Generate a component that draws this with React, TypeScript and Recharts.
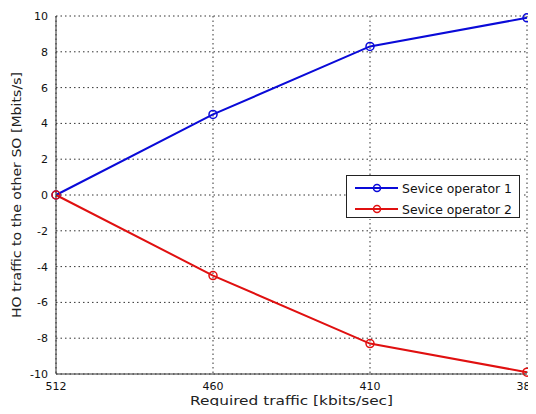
import React from 'react';
import { LineChart, Line, XAxis, YAxis, CartesianGrid } from 'recharts';

// x categories (required traffic, kbits/sec) and the two operators' HO traffic
const categories = ['512', '460', '410', '384'];
const operator1 = [0, 4.5, 8.3, 9.9];
const operator2 = [0, -4.5, -8.3, -9.9];
const yTicks = [-10, -8, -6, -4, -2, 0, 2, 4, 6, 8, 10];

const BLUE = '#0a0ad8';
const RED = '#e01010';
const FONT = '"DejaVu Sans", Verdana, sans-serif';

const data = categories.map((c, i) => ({ idx: i, op1: operator1[i], op2: operator2[i] }));

const tickStyle = { fill: '#111', fontSize: 11, fontFamily: FONT };

function LegendBox(): React.JSX.Element {
  const rows = [
    { name: 'Sevice operator 1', color: BLUE, y: 13 },
    { name: 'Sevice operator 2', color: RED, y: 34 },
  ];
  return (
    <svg
      width={175}
      height={44}
      style={{ position: 'absolute', left: 346, top: 175, background: '#fff' }}
    >
      <rect x={0.5} y={0.5} width={173} height={42} fill="#fff" stroke="#222" />
      {rows.map((r) => (
        <g key={r.name}>
          <line x1={9} y1={r.y} x2={52} y2={r.y} stroke={r.color} strokeWidth={2} />
          <circle cx={31} cy={r.y} r={3.5} fill="none" stroke={r.color} strokeWidth={1.5} />
          <text x={56} y={r.y + 4.5} fontSize={12} fontFamily={FONT} fill="#111" textLength={110} lengthAdjust="spacingAndGlyphs">
            {r.name}
          </text>
        </g>
      ))}
    </svg>
  );
}

// axis titles placed by hand, like MATLAB's xlabel / ylabel
const YTitle = () => (
  <text
    transform="translate(21, 195) rotate(-90)"
    textAnchor="middle"
    fontSize={13}
    fontFamily={FONT}
    fill="#222"
    textLength={246}
    lengthAdjust="spacingAndGlyphs"
  >
    HO traffic to the other SO [Mbits/s]
  </text>
);

const XTitle = () => (
  <text
    x={291.5}
    y={405}
    textAnchor="middle"
    fontSize={13}
    fontFamily={FONT}
    fill="#222"
    textLength={203}
    lengthAdjust="spacingAndGlyphs"
  >
    Required traffic [kbits/sec]
  </text>
);

export default function App(): React.JSX.Element {
  return (
    <div style={{ width: 536, height: 414, background: '#fff', margin: -8, position: 'relative' }}>
      <LineChart
        width={536}
        height={414}
        data={data}
        margin={{ top: 16, right: 9, left: 0, bottom: 0 }}
      >
        <CartesianGrid stroke="#333" strokeDasharray="1.5 3" />
        <XAxis
          dataKey="idx"
          type="number"
          domain={[0, 3]}
          ticks={[0, 1, 2, 3]}
          tickFormatter={(v: number) => categories[v]}
          tick={tickStyle}
          tickLine={false}
          axisLine={{ stroke: '#333' }}
          height={40}
          label={<XTitle />}
        />
        <XAxis xAxisId="top" orientation="top" dataKey="idx" type="number" domain={[0, 3]} tick={false} tickLine={false} axisLine={{ stroke: '#333' }} height={0} />
        <YAxis
          domain={[-10, 10]}
          ticks={yTicks}
          tick={tickStyle}
          tickLine={false}
          axisLine={{ stroke: '#333' }}
          width={56}
          interval={0}
          label={<YTitle />}
        />
        <YAxis yAxisId="right" orientation="right" domain={[-10, 10]} tick={false} tickLine={false} axisLine={{ stroke: '#333' }} width={0} />
        <Line
          dataKey="op1"
          stroke={BLUE}
          strokeWidth={2}
          dot={{ r: 4, fill: 'none', stroke: BLUE, strokeWidth: 1.5 }}
          isAnimationActive={false}
        />
        <Line
          dataKey="op2"
          stroke={RED}
          strokeWidth={2}
          dot={{ r: 4, fill: 'none', stroke: RED, strokeWidth: 1.5 }}
          isAnimationActive={false}
        />
      </LineChart>
      <LegendBox />
    </div>
  );
}
